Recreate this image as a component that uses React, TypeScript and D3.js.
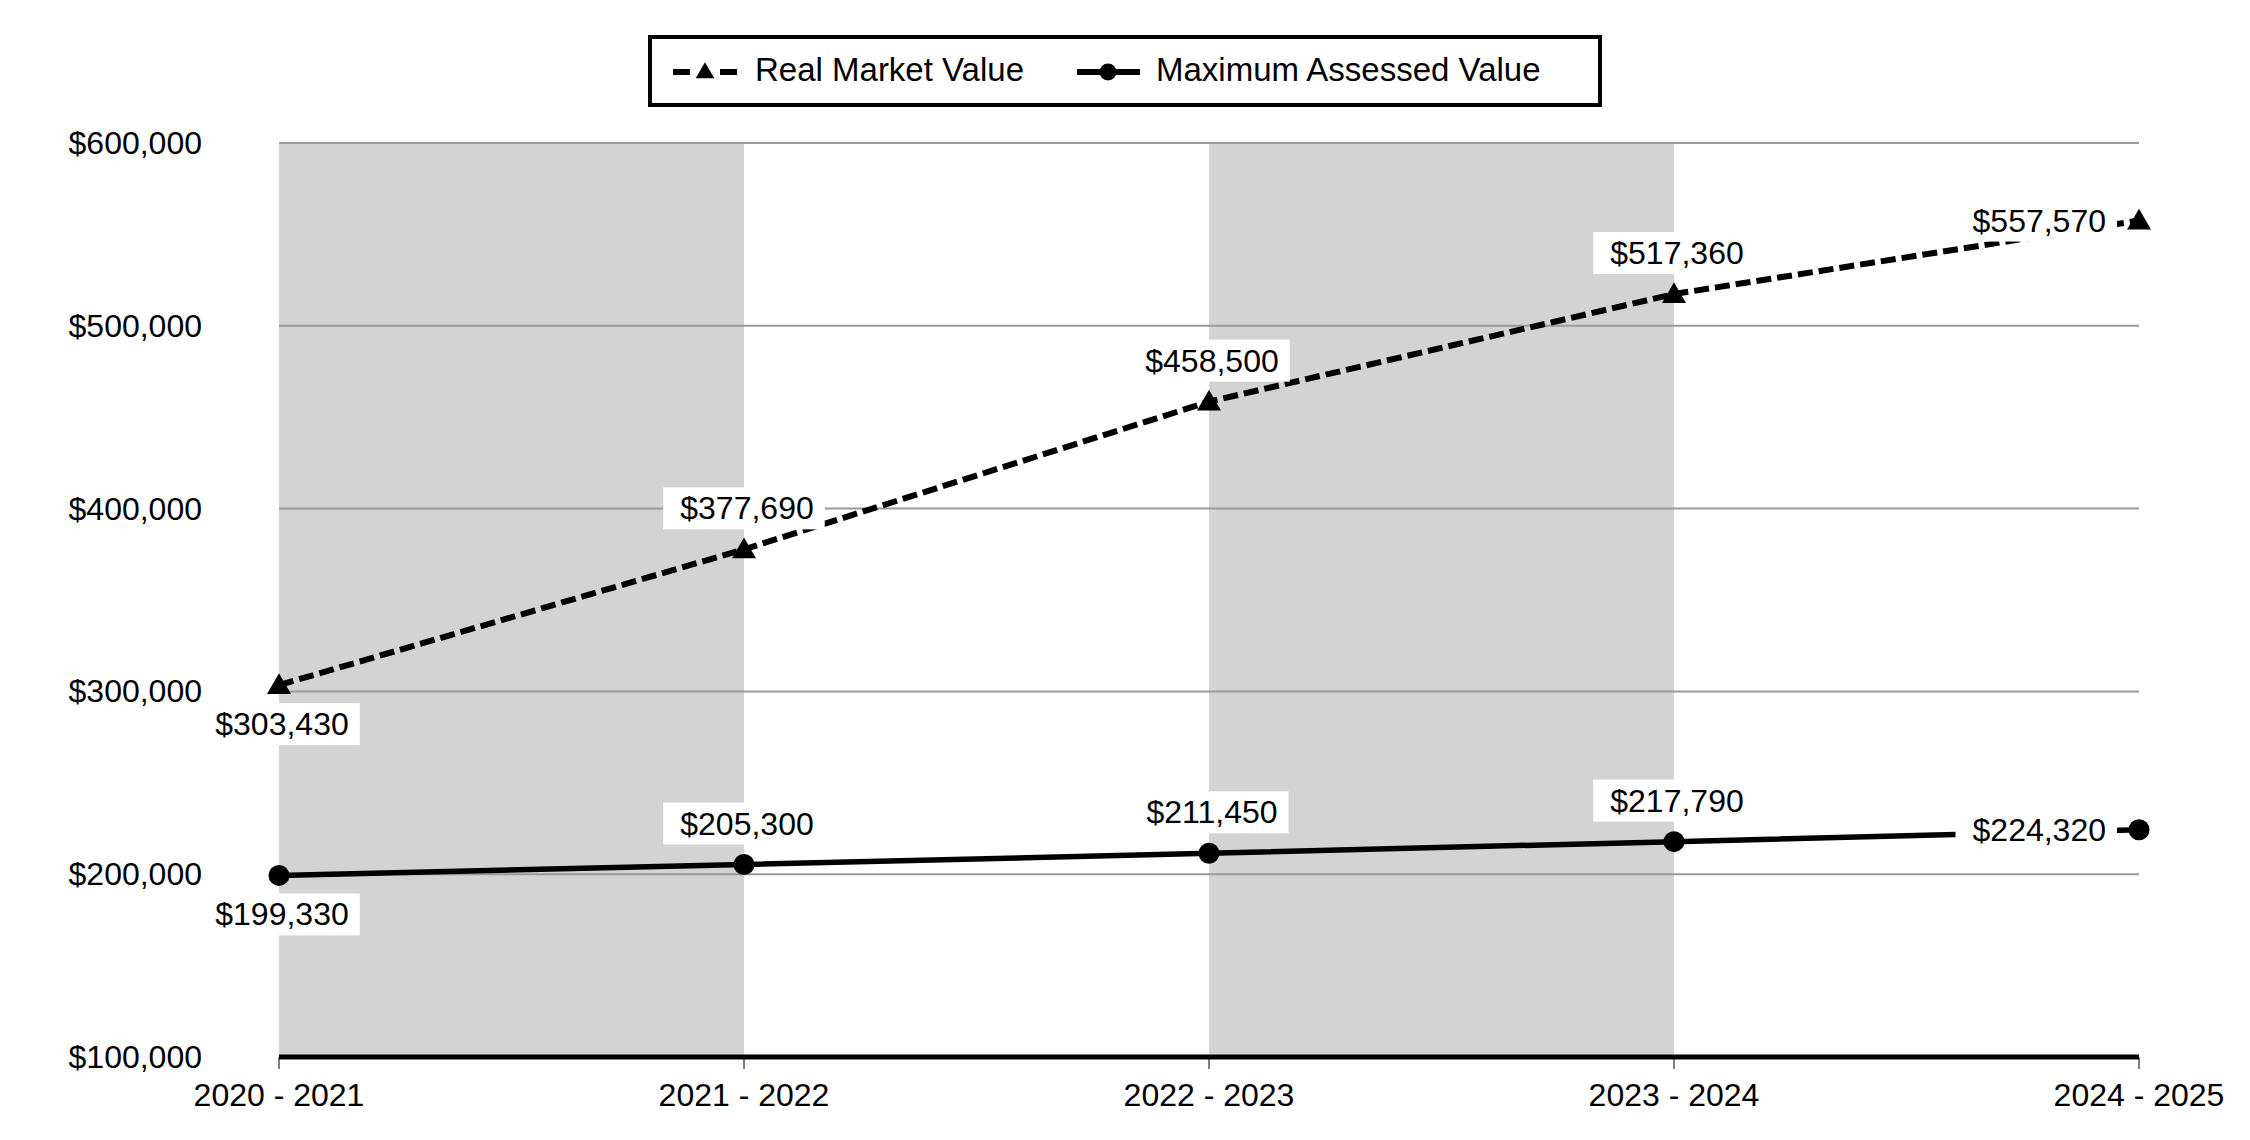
import * as React from 'react';
import * as d3 from 'd3';

const years = ['2020 - 2021', '2021 - 2022', '2022 - 2023', '2023 - 2024', '2024 - 2025'];
const realMarketValue = [303430, 377690, 458500, 517360, 557570];
const maxAssessedValue = [199330, 205300, 211450, 217790, 224320];
const yTicks = [100000, 200000, 300000, 400000, 500000, 600000];
const seriesNames = ['Real Market Value', 'Maximum Assessed Value'];

const W = 2250;
const H = 1140;
const FONT = '"Liberation Sans", Arial, sans-serif';

const App: React.FunctionComponent = () => {
    const ref = React.useRef<SVGSVGElement>(null);

    React.useEffect(() => {
        if (!ref.current) {
            return;
        }
        const svg = d3.select(ref.current);
        svg.selectAll('*').remove();

        const x = d3.scalePoint<string>().domain(years).range([279, 2139]);
        const y = d3.scaleLinear().domain([100000, 600000]).range([1057, 143]);
        const fmt = d3.format('$,');

        const root = svg.append('g').attr('font-family', FONT).attr('font-size', 32);

        // alternating grey bands
        root.selectAll('rect.band')
            .data(years.slice(0, -1).filter((d, i) => i % 2 === 0))
            .join('rect')
            .attr('class', 'band')
            .attr('x', d => x(d)!)
            .attr('width', x.step())
            .attr('y', y(600000))
            .attr('height', y(100000) - y(600000))
            .attr('fill', '#d3d3d3');

        // gridlines
        root.selectAll('line.grid')
            .data(yTicks.slice(1))
            .join('line')
            .attr('class', 'grid')
            .attr('x1', x.range()[0])
            .attr('x2', x.range()[1])
            .attr('y1', d => y(d))
            .attr('y2', d => y(d))
            .attr('stroke', '#9a9a9a')
            .attr('stroke-width', 2);

        // y tick labels
        root.selectAll('text.ytick')
            .data(yTicks)
            .join('text')
            .attr('class', 'ytick')
            .attr('x', 202)
            .attr('y', d => y(d) + 11)
            .attr('text-anchor', 'end')
            .text(d => fmt(d));

        // x axis
        root.append('line')
            .attr('x1', x.range()[0])
            .attr('x2', x.range()[1])
            .attr('y1', y(100000))
            .attr('y2', y(100000))
            .attr('stroke', '#000')
            .attr('stroke-width', 5);
        root.selectAll('line.xtick')
            .data(years)
            .join('line')
            .attr('class', 'xtick')
            .attr('x1', d => x(d)!)
            .attr('x2', d => x(d)!)
            .attr('y1', y(100000))
            .attr('y2', y(100000) + 12)
            .attr('stroke', '#000')
            .attr('stroke-width', 1);
        root.selectAll('text.xtick')
            .data(years)
            .join('text')
            .attr('class', 'xtick')
            .attr('x', d => x(d)!)
            .attr('y', 1106)
            .attr('text-anchor', 'middle')
            .text(d => d);

        const line = d3.line<number>()
            .x((d, i) => x(years[i])!)
            .y(d => y(d));

        root.append('path')
            .datum(realMarketValue)
            .attr('d', line)
            .attr('fill', 'none')
            .attr('stroke', '#000')
            .attr('stroke-width', 6)
            .attr('stroke-dasharray', '15,6');
        root.append('path')
            .datum(maxAssessedValue)
            .attr('d', line)
            .attr('fill', 'none')
            .attr('stroke', '#000')
            .attr('stroke-width', 5.5);

        const tri = d3.symbol().type(d3.symbolTriangle).size(250);
        root.selectAll('path.tri')
            .data(realMarketValue)
            .join('path')
            .attr('class', 'tri')
            .attr('d', tri()!)
            .attr('transform', (d, i) => `translate(${x(years[i])},${y(d) + 2})`)
            .attr('fill', '#000');
        root.selectAll('circle.dot')
            .data(maxAssessedValue)
            .join('circle')
            .attr('class', 'dot')
            .attr('cx', (d, i) => x(years[i])!)
            .attr('cy', d => y(d))
            .attr('r', 10.5)
            .attr('fill', '#000');

        // value labels on white boxes
        const addLabel = (v: number, i: number) => {
            const px = x(years[i])!;
            const py = y(v);
            const g = root.append('g');
            const box = g.append('rect').attr('fill', '#fff');
            const t = g.append('text').text(fmt(v));
            const tw = (t.node() as SVGTextElement).getComputedTextLength();
            const bw = tw + 28;
            const bh = 42;
            let bx: number;
            let by: number;
            if (i === 0) {
                bx = px - bw / 2;
                by = py + 18;
            } else if (i === years.length - 1) {
                bx = px - 22 - bw;
                by = py - bh / 2;
            } else {
                bx = px - bw / 2;
                by = py - 20 - bh;
            }
            box.attr('x', bx).attr('y', by).attr('width', bw).attr('height', bh);
            t.attr('x', bx + bw / 2 + 3).attr('y', by + bh / 2 + 11).attr('text-anchor', 'middle');
        };
        realMarketValue.forEach(addLabel);
        maxAssessedValue.forEach(addLabel);

        // legend
        const lg = root.append('g').attr('font-size', 33);
        lg.append('rect')
            .attr('x', 650).attr('y', 37)
            .attr('width', 950).attr('height', 68)
            .attr('fill', '#fff')
            .attr('stroke', '#000')
            .attr('stroke-width', 4);
        lg.append('line')
            .attr('x1', 673).attr('x2', 737).attr('y1', 72).attr('y2', 72)
            .attr('stroke', '#000').attr('stroke-width', 6)
            .attr('stroke-dasharray', '17,30');
        lg.append('path')
            .attr('d', d3.symbol().type(d3.symbolTriangle).size(150)()!)
            .attr('transform', 'translate(705,73)');
        lg.append('text').attr('x', 755).attr('y', 81).text(seriesNames[0]);
        lg.append('line')
            .attr('x1', 1077).attr('x2', 1140).attr('y1', 72).attr('y2', 72)
            .attr('stroke', '#000').attr('stroke-width', 6);
        lg.append('circle').attr('cx', 1108).attr('cy', 72).attr('r', 8.5);
        lg.append('text').attr('x', 1156).attr('y', 81).text(seriesNames[1]);
    });

    return (
        <svg ref={ref} width={W} height={H}
            style={{ position: 'absolute', left: 0, top: 0, background: '#fff' }} />
    );
};

export default App;
